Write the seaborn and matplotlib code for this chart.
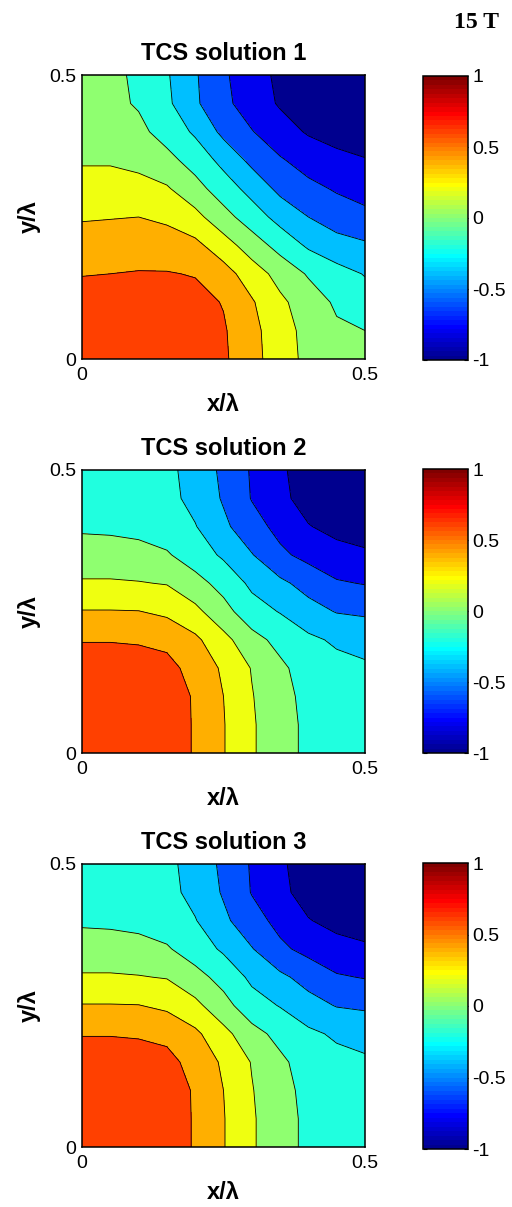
import numpy as np
import matplotlib
matplotlib.use("Agg")
import matplotlib.pyplot as plt
from matplotlib.colors import ListedColormap, Normalize
from matplotlib.cm import ScalarMappable
import seaborn as sns

# Sample grid (x/lambda and y/lambda), rows of each field run along y
grid_x = [0.00, 0.05, 0.10, 0.15, 0.20, 0.25, 0.30, 0.35, 0.40, 0.45, 0.50]
grid_y = [0.00, 0.05, 0.10, 0.15, 0.20, 0.25, 0.30, 0.35, 0.40, 0.45, 0.50]

solution_1 = [
    [0.76, 0.76, 0.75, 0.73, 0.69, 0.63, 0.47, 0.29, 0.15, 0.08, 0.05],
    [0.74, 0.74, 0.74, 0.72, 0.68, 0.62, 0.46, 0.28, 0.14, 0.03, 0.00],
    [0.70, 0.71, 0.71, 0.70, 0.66, 0.59, 0.42, 0.24, 0.10, -0.03, -0.12],
    [0.59, 0.60, 0.61, 0.61, 0.59, 0.48, 0.30, 0.13, -0.02, -0.13, -0.21],
    [0.50, 0.51, 0.52, 0.50, 0.45, 0.29, 0.10, -0.07, -0.23, -0.32, -0.37],
    [0.38, 0.39, 0.40, 0.36, 0.26, 0.07, -0.10, -0.27, -0.40, -0.50, -0.56],
    [0.28, 0.28, 0.26, 0.22, 0.07, -0.10, -0.27, -0.45, -0.55, -0.62, -0.66],
    [0.18, 0.18, 0.15, 0.06, -0.08, -0.26, -0.45, -0.58, -0.68, -0.75, -0.79],
    [0.10, 0.09, 0.05, -0.08, -0.23, -0.45, -0.59, -0.72, -0.82, -0.87, -0.90],
    [0.06, 0.05, -0.02, -0.16, -0.37, -0.55, -0.70, -0.82, -0.89, -0.93, -0.95],
    [0.05, 0.04, -0.03, -0.18, -0.38, -0.57, -0.72, -0.84, -0.90, -0.94, -0.96],
]

solution_2 = [
    [0.76, 0.76, 0.75, 0.72, 0.58, 0.41, 0.22, 0.09, -0.05, -0.10, -0.12],
    [0.76, 0.76, 0.75, 0.72, 0.58, 0.41, 0.22, 0.09, -0.05, -0.11, -0.13],
    [0.74, 0.74, 0.73, 0.70, 0.58, 0.40, 0.21, 0.07, -0.06, -0.12, -0.14],
    [0.70, 0.70, 0.69, 0.66, 0.53, 0.37, 0.19, 0.04, -0.09, -0.14, -0.17],
    [0.59, 0.59, 0.58, 0.55, 0.44, 0.26, 0.07, -0.06, -0.16, -0.23, -0.27],
    [0.41, 0.41, 0.405, 0.36, 0.25, 0.07, -0.12, -0.21, -0.33, -0.41, -0.43],
    [0.22, 0.22, 0.21, 0.19, 0.07, -0.07, -0.24, -0.36, -0.47, -0.58, -0.61],
    [0.09, 0.09, 0.07, 0.02, -0.10, -0.23, -0.39, -0.56, -0.66, -0.73, -0.77],
    [-0.03, -0.04, -0.06, -0.10, -0.19, -0.36, -0.52, -0.66, -0.79, -0.86, -0.89],
    [-0.06, -0.07, -0.09, -0.14, -0.26, -0.42, -0.61, -0.75, -0.88, -0.93, -0.95],
    [-0.07, -0.08, -0.10, -0.15, -0.28, -0.44, -0.62, -0.77, -0.89, -0.94, -0.96],
]

solution_3 = [
    [0.76, 0.76, 0.75, 0.72, 0.58, 0.41, 0.22, 0.09, -0.05, -0.10, -0.12],
    [0.76, 0.76, 0.75, 0.72, 0.58, 0.41, 0.22, 0.09, -0.05, -0.11, -0.13],
    [0.74, 0.74, 0.73, 0.70, 0.58, 0.40, 0.21, 0.07, -0.06, -0.12, -0.14],
    [0.70, 0.70, 0.69, 0.66, 0.53, 0.37, 0.19, 0.04, -0.09, -0.14, -0.17],
    [0.59, 0.59, 0.58, 0.55, 0.44, 0.26, 0.07, -0.06, -0.16, -0.23, -0.27],
    [0.41, 0.41, 0.405, 0.36, 0.25, 0.07, -0.12, -0.21, -0.33, -0.41, -0.43],
    [0.22, 0.22, 0.21, 0.19, 0.07, -0.07, -0.24, -0.36, -0.47, -0.58, -0.61],
    [0.09, 0.09, 0.07, 0.02, -0.10, -0.23, -0.39, -0.56, -0.66, -0.73, -0.77],
    [-0.03, -0.04, -0.06, -0.10, -0.19, -0.36, -0.52, -0.66, -0.79, -0.86, -0.89],
    [-0.06, -0.07, -0.09, -0.14, -0.26, -0.42, -0.61, -0.75, -0.88, -0.93, -0.95],
    [-0.07, -0.08, -0.10, -0.15, -0.28, -0.44, -0.62, -0.77, -0.89, -0.94, -0.96],
]

titles = ["TCS solution 1", "TCS solution 2", "TCS solution 3"]
levels = [-1.0, -0.8, -0.6, -0.4, -0.2, 0.0, 0.2, 0.4, 0.6, 0.8]
axis_ticks = [0, 0.5]
axis_tick_labels = ["0", "0.5"]
cbar_ticks = [-1, -0.5, 0, 0.5, 1]
cbar_tick_labels = ["-1", "-0.5", "0", "0.5", "1"]
field_label = "15 T"


def jet_table(n=64):
    """Classic 64-row jet table built from its linear ramps."""
    rows = []
    for i in range(1, n + 1):
        if i <= 8:
            rgb = (0.0, 0.0, (i + 8) / 16)
        elif i <= 24:
            rgb = (0.0, (i - 8) / 16, 1.0)
        elif i <= 40:
            rgb = ((i - 24) / 16, 1.0, 1 - (i - 24) / 16)
        elif i <= 56:
            rgb = (1.0, 1 - (i - 40) / 16, 0.0)
        else:
            rgb = (1 - (i - 56) / 16, 0.0, 0.0)
        rows.append(rgb)
    return np.array(rows)


jet64 = jet_table(64)
jet_cmap = ListedColormap(jet64)
cmin, cmax = -1.0, 1.0


def level_color(v):
    idx = int(np.fix((v - cmin) / (cmax - cmin) * 64))
    idx = min(max(idx, 0), 63)
    return jet64[idx]


# each filled band takes the colour of its lower level
fill_colors = [level_color(v) for v in levels[:-1]]

sns.set_style("white")
plt.rcParams["font.family"] = ["Liberation Sans", "DejaVu Sans"]
for key in ["text.color", "axes.labelcolor", "xtick.color", "ytick.color", "axes.edgecolor"]:
    plt.rcParams[key] = "black"

W, H = 512, 1207
fig = plt.figure(figsize=(W / 100, H / 100), dpi=100)


def fx(px):
    return px / W


def fy(py):
    return 1 - py / H


panels = [
    (solution_1, 75, 359, 76, 360),
    (solution_2, 470, 753, 469, 753),
    (solution_3, 864, 1147, 863, 1149),
]

X, Y = np.meshgrid(grid_x, grid_y)

for (field, top, bottom, ctop, cbottom), title in zip(panels, titles):
    Z = np.array(field)
    ax = fig.add_axes([fx(82), fy(bottom), fx(365) - fx(82), fy(top) - fy(bottom)])
    ax.contourf(X, Y, Z, levels=levels, colors=fill_colors)
    ax.contour(X, Y, Z, levels=levels[1:-1], colors="black", linewidths=0.6,
               linestyles="solid", negative_linestyles="solid")
    ax.set_xlim(0, 0.5)
    ax.set_ylim(0, 0.5)
    ax.set_xticks(axis_ticks)
    ax.set_xticklabels(axis_tick_labels)
    ax.set_yticks(axis_ticks)
    ax.set_yticklabels(axis_tick_labels)
    ax.tick_params(direction="in", length=4, labelsize=14, width=0.8)
    ax.tick_params(axis="x", pad=6)
    ax.tick_params(axis="y", pad=4)
    for s in ax.spines.values():
        s.set_linewidth(1.1)
        s.set_color("black")
        s.set_visible(True)
    ax.set_title(title, fontsize=17, fontweight="bold", pad=11)
    ax.set_xlabel("x/λ", fontsize=17, fontweight="bold", labelpad=6)
    ax.set_ylabel("y/λ", fontsize=17, fontweight="bold", labelpad=6)

    cax = fig.add_axes([fx(423), fy(cbottom), fx(468) - fx(423), fy(ctop) - fy(cbottom)])
    sm = ScalarMappable(norm=Normalize(vmin=cmin, vmax=cmax), cmap=jet_cmap)
    cb = fig.colorbar(sm, cax=cax)
    cb.set_ticks(cbar_ticks)
    cb.set_ticklabels(cbar_tick_labels)
    cb.outline.set_linewidth(1.1)
    cb.outline.set_edgecolor("black")
    cax.tick_params(direction="in", length=3, width=0.8, labelsize=14, pad=3,
                    left=True, right=True, labelleft=False, labelright=True)

fig.text(fx(476), fy(28), field_label, ha="center", va="baseline",
         fontsize=17, fontweight="bold", family=["Liberation Serif", "DejaVu Serif"])

fig.savefig("out.png", dpi=100)
